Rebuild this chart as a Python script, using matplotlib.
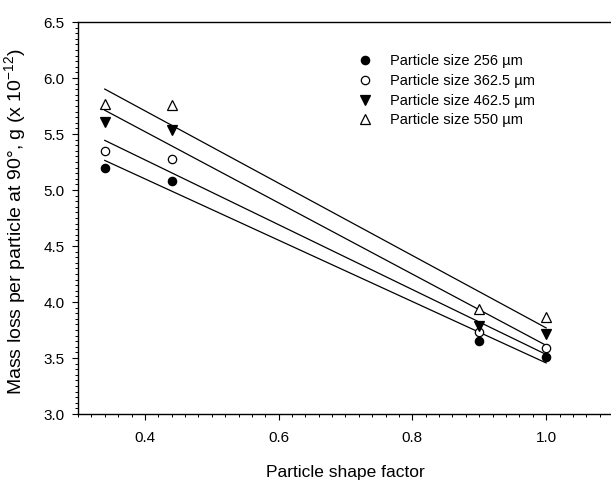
import numpy as np
import matplotlib
matplotlib.use("Agg")
import matplotlib.pyplot as plt
from matplotlib.ticker import MultipleLocator

plt.rcParams['font.family'] = ['Liberation Sans', 'DejaVu Sans']
plt.rcParams['mathtext.default'] = 'regular'

# shape factor of the particles
shape_factor = [0.34, 0.44, 0.9, 1.0]

# mass loss per particle (x 1e-12 g) for each particle size
size_labels = ["Particle size 256 \u00b5m", "Particle size 362.5 \u00b5m",
               "Particle size 462.5 \u00b5m", "Particle size 550 \u00b5m"]
loss_256 = [5.20, 5.08, 3.65, 3.51]
loss_362 = [5.35, 5.28, 3.73, 3.59]
loss_462 = [5.61, 5.54, 3.79, 3.71]
loss_550 = [5.77, 5.76, 3.94, 3.87]

series = [loss_256, loss_362, loss_462, loss_550]
markers = ['o', 'o', 'v', '^']
faces = ['black', 'white', 'black', 'white']
msizes = [6, 6, 6.5, 6.5]

fig = plt.figure(figsize=(6.11, 4.8), dpi=100)
ax = fig.add_axes([78/611, 66/480, 535/611, 392/480])

x = np.array(shape_factor)
for y, lab, m, fc, ms in zip(series, size_labels, markers, faces, msizes):
    ax.plot(x, y, linestyle='none', marker=m, markerfacecolor=fc,
            markeredgecolor='black', markeredgewidth=0.9, markersize=ms,
            label=lab, zorder=3)
    # linear regression line through each size
    k, b = np.polyfit(x, y, 1)
    xs = np.array([x.min(), x.max()])
    ax.plot(xs, k * xs + b, color='black', linewidth=0.9, zorder=2)

ax.set_xlim(0.3, 1.1)
ax.set_ylim(3.0, 6.5)
ax.xaxis.set_minor_locator(MultipleLocator(0.02))
ax.yaxis.set_minor_locator(MultipleLocator(0.05))
ax.set_xticks([0.4, 0.6, 0.8, 1.0])
ax.set_xticklabels(["0.4", "0.6", "0.8", "1.0"])
ax.set_yticks([3.0, 3.5, 4.0, 4.5, 5.0, 5.5, 6.0, 6.5])
ax.set_yticklabels(["3.0", "3.5", "4.0", "4.5", "5.0", "5.5", "6.0", "6.5"])

ax.tick_params(which='major', direction='out', length=4.5, width=0.8,
               labelsize=11)
ax.tick_params(axis='x', which='major', pad=8)
ax.tick_params(axis='y', which='major', pad=5)
ax.tick_params(which='minor', direction='out', length=2.5, width=0.7)
ax.spines['right'].set_visible(False)
for s in ['left', 'bottom', 'top']:
    ax.spines[s].set_linewidth(1.0)

ax.set_xlabel("Particle shape factor", fontsize=12.5, labelpad=14)
ax.set_ylabel("Mass loss per particle at 90\u00b0, g (x 10$^{-12}$)",
              fontsize=14)
ax.yaxis.set_label_coords(-0.093, 0.49)

ax.legend(loc='upper left', bbox_to_anchor=(0.509, 0.937), frameon=False,
          fontsize=10.5, borderpad=0, handlelength=1.0, handletextpad=1.2,
          labelspacing=0.4)

fig.savefig("out.png", dpi=100)
